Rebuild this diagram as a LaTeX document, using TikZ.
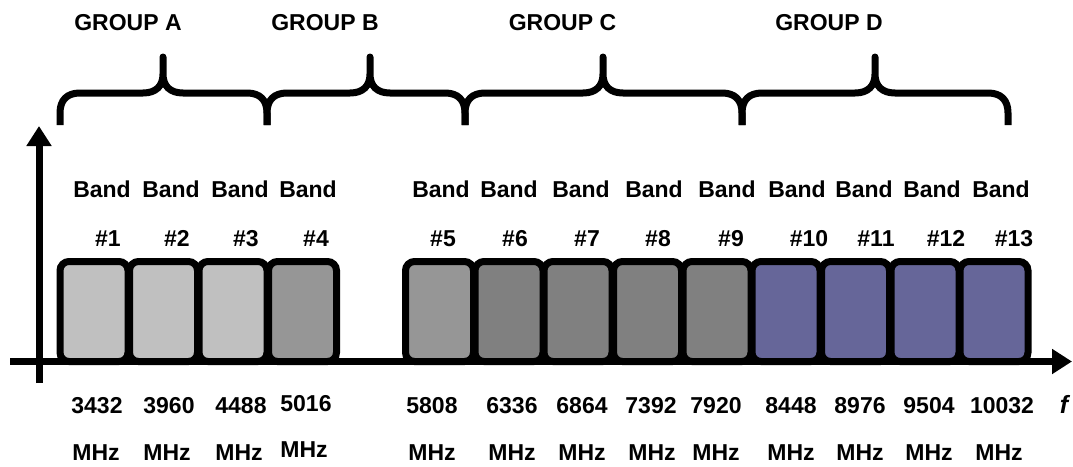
\documentclass[tikz,border=0pt]{standalone}
\usepackage{fontspec}
\setmainfont{Liberation Sans}
\usetikzlibrary{arrows.meta}
\definecolor{bandlight}{HTML}{C0C0C0}
\definecolor{bandmid}{HTML}{969696}
\definecolor{banddark}{HTML}{808080}
\definecolor{bandpurple}{HTML}{666699}
\begin{document}
\begin{tikzpicture}[x=1pt,y=-1pt,
  bandbox/.style={draw=black, line width=7pt, rounded corners=9pt, minimum width=68pt, minimum height=100pt, inner sep=0pt},
  lbl/.style={font=\fontsize{23}{27}\selectfont\bfseries, anchor=base, inner sep=0pt},
  bracepath/.style={line width=7pt, line join=round},
  axisline/.style={line width=7pt, -{Triangle[length=20pt,width=24pt]}}]
\useasboundingbox (0,0) rectangle (1073,466);

% group labels
\node[lbl] (ga) at (128,30) {GROUP A};
\node[lbl] (gb) at (325,30) {GROUP B};
\node[lbl] (gc) at (562.5,30) {GROUP C};
\node[lbl] (gd) at (829,30) {GROUP D};

% braces
\foreach \xa/\xm/\xb in {60/163/267, 267/370/465, 465/603/742, 742/875/1008}{
  \draw[bracepath] (\xa,125) -- (\xa,113) .. controls (\xa,100) and (\xa+7,93) .. (\xa+20,93)
    -- (\xm-20,93) .. controls (\xm-7,93) and (\xm,86) .. (\xm,74) -- (\xm,57)
    -- (\xm,74) .. controls (\xm,86) and (\xm+7,93) .. (\xm+20,93)
    -- (\xb-20,93) .. controls (\xb-7,93) and (\xb,100) .. (\xb,113) -- (\xb,125);
}

% band boxes
\foreach \i/\cx/\col in {1/94/bandlight, 2/163.5/bandlight, 3/233/bandlight, 4/302.5/bandmid,
  5/439.5/bandmid, 6/509/banddark, 7/578/banddark, 8/647.5/banddark, 9/717/banddark,
  10/786/bandpurple, 11/855.5/bandpurple, 12/925/bandpurple, 13/994/bandpurple}{
  \node[bandbox, fill=\col] (b\i) at (\cx,311.5) {};
}

% axes
\coordinate (yo) at (39,383);
\coordinate (yt) at (39,126);
\coordinate (xo) at (10,361.5);
\coordinate (xt) at (1072,361.5);
\draw[axisline] (yo) -- (yt);
\draw[axisline] (xo) -- (xt);

% Band labels
\foreach \i/\x in {1/102, 2/171, 3/240, 4/308, 5/441, 6/509, 7/581, 8/654, 9/727, 10/797, 11/864, 12/932, 13/1001}{
  \node[lbl] (band\i) at (\x,197) {Band};
}
\foreach \i/\x in {1/108, 2/177, 3/246, 4/316, 5/443, 6/515, 7/587, 8/658, 9/731, 10/809, 11/876, 12/946, 13/1014}{
  \node[lbl] (num\i) at (\x,246) {\#\i};
}
% frequencies
\foreach \i/\x/\v/\yb in {1/97/3432/413, 2/169/3960/413, 3/241/4488/413, 4/306/5016/411,
  5/432/5808/413, 6/512/6336/413, 7/582/6864/413, 8/651/7392/413, 9/716/7920/413,
  10/791/8448/413, 11/860/8976/413, 12/929/9504/413, 13/1002/10032/413}{
  \node[lbl] (f\i) at (\x,\yb) {\v};
}
\foreach \i/\x/\yb in {1/96/460, 2/167/460, 3/239/460, 4/304/457, 5/432/460, 6/512/460, 7/582/460,
  8/652/460, 9/716/460, 10/791/460, 11/860/460, 12/929/460, 13/999/460}{
  \node[lbl] (m\i) at (\x,\yb) {MHz};
}
\node[lbl, font=\fontsize{25}{29}\selectfont\bfseries\itshape] (fl) at (1064,413) {f};
\end{tikzpicture}
\end{document}
